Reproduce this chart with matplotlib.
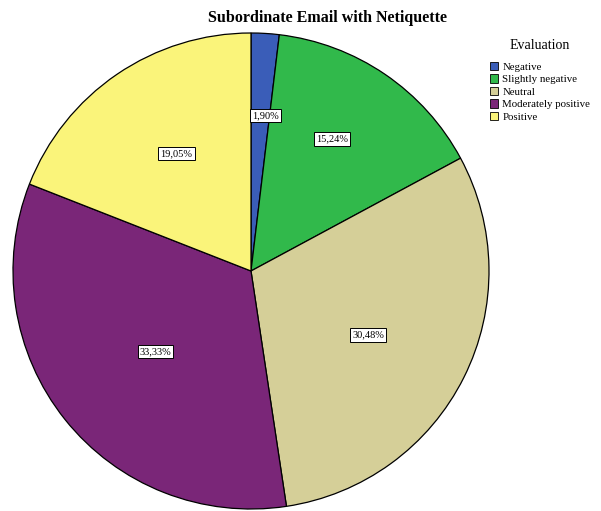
import numpy as np
import matplotlib.pyplot as plt
from matplotlib.patches import Patch

plt.rcParams["font.family"] = "Liberation Serif"

categories = ["Negative", "Slightly negative", "Neutral", "Moderately positive", "Positive"]
values = [1.90, 15.24, 30.48, 33.33, 19.05]
labels = ["1,90%", "15,24%", "30,48%", "33,33%", "19,05%"]
colors = ["#3A5DB8", "#31B94B", "#D5CF98", "#7A2678", "#FAF47A"]
# label placement (fraction of radius, clockwise nudge in degrees)
label_r = [0.655, 0.65, 0.56, 0.525, 0.585]
label_nudge = [2.0, -2.8, 2.1, -1.6, 1.9]

W, H = 601, 511
fig = plt.figure(figsize=(W / 100, H / 100), dpi=100)
fig.patch.set_facecolor("white")

# pie centre (251, 271) px, radius 238 px
R = 238
ax = fig.add_axes([(251 - R) / W, (H - 271 - R) / H, 2 * R / W, 2 * R / H])
wedges, _ = ax.pie(values, colors=colors, startangle=90, counterclock=False,
                   wedgeprops=dict(edgecolor="black", linewidth=0.9))
ax.set_xlim(-1, 1)
ax.set_ylim(-1, 1)
ax.set_aspect("equal")
ax.axis("off")

for w, lab, r, nd in zip(wedges, labels, label_r, label_nudge):
    ang = np.deg2rad((w.theta1 + w.theta2) / 2 - nd)
    ax.text(r * np.cos(ang), r * np.sin(ang), lab, ha="center", va="center",
            fontsize=7.5,
            bbox=dict(boxstyle="square,pad=0.2", fc="white", ec="black", lw=0.7))

fig.text(328 / W, 1 - 18 / H, "Subordinate Email with Netiquette",
         ha="center", va="center", fontsize=11.5, fontweight="bold")

handles = [Patch(facecolor=c, edgecolor="black", linewidth=0.6) for c in colors]
leg = fig.legend(handles, categories, title="Evaluation", loc="upper left",
                 bbox_to_anchor=(490 / W, 1 - 39 / H), frameon=False,
                 fontsize=7.8, title_fontsize=10, handlelength=0.75, handleheight=0.85,
                 handletextpad=0.4, labelspacing=0.22, borderaxespad=0, borderpad=0)
leg._legend_box.sep = 7

fig.savefig("out.png", dpi=100)
